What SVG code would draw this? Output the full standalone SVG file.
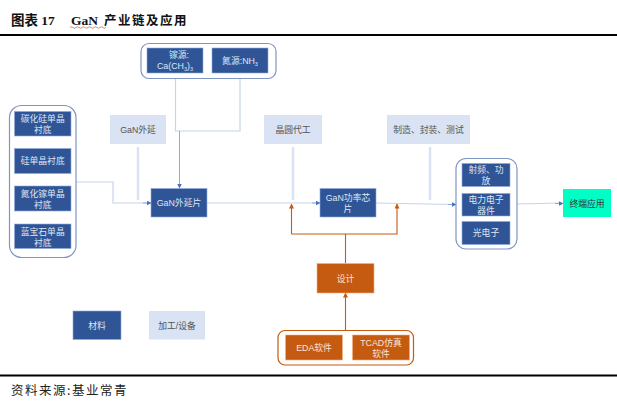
<svg xmlns="http://www.w3.org/2000/svg" width="617" height="401" viewBox="0 0 617 401">
<style>
text{font-family:"Liberation Sans","Noto Sans CJK SC",sans-serif;font-size:8.800px;text-anchor:middle}
.b rect{fill:#2f5597;stroke:#8faadc;stroke-width:.6}
.b text{fill:#dfe6f3}
.l rect{fill:#dae3f3;stroke:none}
.l text{fill:#555}
.o rect{fill:#c55a11;stroke:#f4b183;stroke-width:.6}
.o text{fill:#fbe5d6}
.gb{fill:#fff;stroke:#7f96c4;stroke-width:1.2}
.go{fill:#fff;stroke:#c55a11;stroke-width:1.2}
.cb{fill:none;stroke:#c6d4ec;stroke-width:1.2}
.cm{fill:none;stroke:#8faadc;stroke-width:1}
.ct{fill:none;stroke:#dae3f3;stroke-width:2.500}
.co{fill:none;stroke:#c55a11;stroke-width:1.100}
.t{font-family:"Liberation Serif","Noto Sans CJK SC",serif;font-weight:bold;font-size:13.500px;text-anchor:start;fill:#111}
</style>
<defs>
<marker id="ab" markerWidth="5" markerHeight="5" refX="4.500" refY="2.500" orient="auto" markerUnits="userSpaceOnUse"><path d="M0 0L5 2.500L0 5Z" fill="#4472c4"/></marker>
<marker id="ao" markerWidth="5" markerHeight="5" refX="4.500" refY="2.500" orient="auto" markerUnits="userSpaceOnUse"><path d="M0 0L5 2.500L0 5Z" fill="#c55a11"/></marker>
</defs>
<g id="header">
<text class="t" x="11" y="25">图表 17</text>
<text class="t" x="71" y="25">GaN</text>
<text class="t" x="104" y="25" style="font-size:12.500px;letter-spacing:1.500px">产业链及应用</text>
<path d="M70 27.500q1.500-1.500 3 0t3 0 3 0 3 0 3 0 3 0 3 0 3 0 3 0 3 0 3 0 3 0" fill="none" stroke="#c0392b" stroke-width=".6"/>
<rect x="0" y="34" width="617" height="2" fill="#000"/>
</g>
<g id="connectors">
<path class="cb" d="M175.500 78V131H240V78"/>
<path class="cm" d="M179.500 131V188" marker-end="url(#ab)"/>
<path class="cb" d="M76 182H113V203H147"/>
<path class="cm" d="M143 203H151" marker-end="url(#ab)"/>
<path class="ct" d="M138 147V200"/>
<path class="cb" d="M207 203H316"/>
<path class="cm" d="M312 203H320" marker-end="url(#ab)"/>
<path class="ct" d="M293 147V200"/>
<path class="ct" d="M430 147V200"/>
<path class="cb" d="M376 203L452 204.500"/>
<path class="cm" d="M448 204.500H456" marker-end="url(#ab)"/>
<path class="cb" d="M517 204L560 203"/>
<path class="cm" d="M555 203.500H563" marker-end="url(#ab)"/>
<path class="co" d="M291.500 234V204" marker-end="url(#ao)"/>
<path class="co" d="M291.500 234H397V204" marker-end="url(#ao)"/>
<path class="co" d="M345.500 234V263"/>
<path class="co" d="M345.500 330V293" marker-end="url(#ao)"/>
</g>
<g id="source-group"><rect class="gb" x="141" y="43.500" width="135" height="35" rx="8"/></g>
<g id="ga-source" class="b"><rect x="147" y="48" width="56" height="25"/><text x="179" y="58">镓源:</text><text x="175" y="69">Ca(CH<tspan font-size="5.500" dy="1.500">3</tspan><tspan dy="-1.500">)</tspan><tspan font-size="5.500" dy="1.500">3</tspan></text></g>
<g id="n-source" class="b"><rect x="212" y="48" width="56" height="25"/><text x="240" y="64">氮源:NH<tspan font-size="5.500" dy="1.500">3</tspan></text></g>
<g id="substrate-group"><rect class="gb" x="9.500" y="105.500" width="66.500" height="152" rx="12"/></g>
<g id="sic" class="b"><rect x="14.500" y="111.500" width="56.500" height="24.500"/><text x="42.700" y="122">碳化硅单晶</text><text x="42.700" y="133">衬底</text></g>
<g id="si" class="b"><rect x="14.500" y="148.500" width="56.500" height="25"/><text x="42.700" y="164">硅单晶衬底</text></g>
<g id="gan-sub" class="b"><rect x="14.500" y="186" width="56.500" height="25"/><text x="42.700" y="197">氮化镓单晶</text><text x="42.700" y="208">衬底</text></g>
<g id="sapphire" class="b"><rect x="14.500" y="224" width="56.500" height="24.500"/><text x="42.700" y="234.500">蓝宝石单晶</text><text x="42.700" y="245.500">衬底</text></g>
<g id="epi-process" class="l"><rect x="110" y="115" width="56" height="29"/><text x="138" y="132.500">GaN外延</text></g>
<g id="epi-wafer" class="b"><rect x="151" y="188.500" width="56" height="28.500"/><text x="179" y="206">GaN外延片</text></g>
<g id="foundry" class="l"><rect x="264" y="115" width="58" height="29"/><text x="293" y="132.500">晶圆代工</text></g>
<g id="packaging" class="l"><rect x="387" y="115" width="83" height="29"/><text x="428.500" y="132.500">制造、封装、测试</text></g>
<g id="chip" class="b"><rect x="320" y="188.500" width="56" height="28.500"/><text x="348" y="201">GaN功率芯</text><text x="348" y="212">片</text></g>
<g id="device-group"><rect class="gb" x="456" y="158.500" width="61" height="90.500" rx="10"/></g>
<g id="rf" class="b"><rect x="462" y="163.500" width="48" height="23"/><text x="486" y="173">射频、功</text><text x="486" y="184">放</text></g>
<g id="power" class="b"><rect x="462" y="193.500" width="48" height="22.500"/><text x="486" y="203">电力电子</text><text x="486" y="214">器件</text></g>
<g id="opto" class="b"><rect x="462" y="221.500" width="48" height="23"/><text x="486" y="236">光电子</text></g>
<g id="terminal"><rect x="563" y="189" width="48" height="28" fill="#00ffc4"/><text x="587" y="206.500" fill="#333">终端应用</text></g>
<g id="design" class="o"><rect x="317" y="263.500" width="57" height="29.500"/><text x="345.500" y="281.500">设计</text></g>
<g id="software-group"><rect class="go" x="278" y="330.500" width="135.500" height="34.500" rx="7"/></g>
<g id="eda" class="o"><rect x="285.500" y="335" width="57" height="25"/><text x="314" y="351">EDA软件</text></g>
<g id="tcad" class="o"><rect x="352.500" y="335" width="57" height="25"/><text x="381" y="345.500">TCAD仿真</text><text x="381" y="356.500">软件</text></g>
<g id="legend-material" class="b"><rect x="73" y="311" width="48" height="28.500"/><text x="97" y="329">材料</text></g>
<g id="legend-process" class="l"><rect x="149" y="311" width="56" height="28.500"/><text x="177" y="329">加工/设备</text></g>
<g id="footer">
<rect x="0" y="374.500" width="617" height="2" fill="#000"/>
<text x="11" y="395" style="font-family:'Noto Sans CJK SC',sans-serif;font-size:12.500px;letter-spacing:1.500px;text-anchor:start;fill:#222">资料来源:基业常青</text>
</g>
</svg>
